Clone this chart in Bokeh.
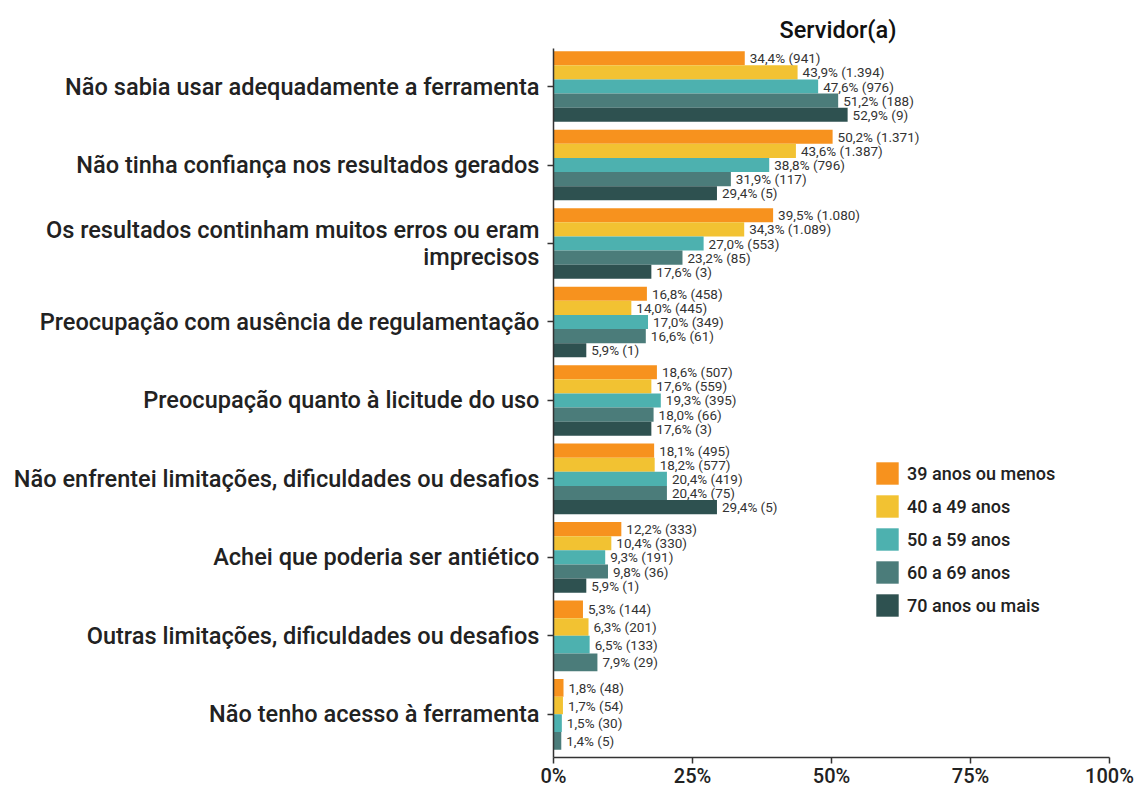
from bokeh.plotting import figure
from bokeh.models import Range1d, FixedTicker, ColumnDataSource
from bokeh.embed import file_html
from bokeh.resources import INLINE
from bokeh.core.properties import value

categories = [
    "Não sabia usar adequadamente a ferramenta",
    "Não tinha confiança nos resultados gerados",
    "Os resultados continham muitos erros ou eram\nimprecisos",
    "Preocupação com ausência de regulamentação",
    "Preocupação quanto à licitude do uso",
    "Não enfrentei limitações, dificuldades ou desafios",
    "Achei que poderia ser antiético",
    "Outras limitações, dificuldades ou desafios",
    "Não tenho acesso à ferramenta",
]
groups = ["39 anos ou menos", "40 a 49 anos", "50 a 59 anos", "60 a 69 anos", "70 anos ou mais"]
colors = ["#F7921E", "#F2C232", "#4DB1AF", "#4B7C7A", "#2E5150"]

pct_39 = [34.4, 50.2, 39.5, 16.8, 18.6, 18.1, 12.2, 5.3, 1.8]
n_39 = ["941", "1.371", "1.080", "458", "507", "495", "333", "144", "48"]
pct_40 = [43.9, 43.6, 34.3, 14.0, 17.6, 18.2, 10.4, 6.3, 1.7]
n_40 = ["1.394", "1.387", "1.089", "445", "559", "577", "330", "201", "54"]
pct_50 = [47.6, 38.8, 27.0, 17.0, 19.3, 20.4, 9.3, 6.5, 1.5]
n_50 = ["976", "796", "553", "349", "395", "419", "191", "133", "30"]
pct_60 = [51.2, 31.9, 23.2, 16.6, 18.0, 20.4, 9.8, 7.9, 1.4]
n_60 = ["188", "117", "85", "61", "66", "75", "36", "29", "5"]
pct_70 = [52.9, 29.4, 17.6, 5.9, 17.6, 29.4, 5.9, None, None]
n_70 = ["9", "5", "3", "1", "3", "5", "1", None, None]

x_ticks = [0, 25, 50, 75, 100]
x_tick_labels = ["0%", "25%", "50%", "75%", "100%"]

series_pct = [pct_39, pct_40, pct_50, pct_60, pct_70]
series_n = [n_39, n_40, n_50, n_60, n_70]

FONT = "Roboto"
FONT_M = "Roboto Medium"
TXT = "#222222"

p = figure(width=1135, height=790, output_backend="svg", toolbar_location=None,
           x_range=Range1d(0, 100), y_range=Range1d(8.55, -0.485),
           min_border_left=553, min_border_right=26, min_border_top=48, min_border_bottom=28,
           title="Servidor(a)")
p.outline_line_color = None
p.background_fill_color = "white"
p.border_fill_color = "white"
p.xgrid.visible = False
p.ygrid.visible = False

p.title.align = "left"
p.title.offset = 226
p.title.text_font = FONT_M
p.title.text_font_size = "23.5px"
p.title.text_font_style = "normal"
p.title.text_color = "#111111"

# dodge width 0.9 split among present series in each category
dodge = 0.9
for s, (pcts, ns, name, col) in enumerate(zip(series_pct, series_n, groups, colors)):
    ys, hs, xs, labs = [], [], [], []
    for i in range(len(categories)):
        present = [k for k in range(len(series_pct)) if series_pct[k][i] is not None]
        if pcts[i] is None:
            continue
        n = len(present)
        k = present.index(s)
        h = dodge / n
        ys.append(i - dodge / 2 + (k + 0.5) * h)
        hs.append(h)
        xs.append(pcts[i])
        labs.append(f"{pcts[i]:.1f}".replace(".", ",") + "% (" + ns[i] + ")")
    src = ColumnDataSource(dict(y=ys, h=hs, x=xs, label=labs))
    p.hbar(y="y", height="h", left=0, right="x", source=src, fill_color=col,
           line_color=None, legend_label=name)
    p.text(x="x", y="y", text="label", source=src, x_offset=5, text_baseline="middle",
           text_align="left", text_font=value(FONT), text_font_size="13.5px", text_color="#333333")

# axes
p.xaxis.ticker = FixedTicker(ticks=x_ticks)
p.xaxis.major_label_overrides = {t: l for t, l in zip(x_ticks, x_tick_labels)}
p.yaxis.ticker = FixedTicker(ticks=list(range(len(categories))))
p.yaxis.major_label_overrides = {i: c for i, c in enumerate(categories)}
for ax in (p.xaxis[0], p.yaxis[0]):
    ax.axis_line_color = "#333333"
    ax.axis_line_width = 1.5
    ax.major_tick_line_color = "#333333"
    ax.major_tick_line_width = 1.5
    ax.major_tick_out = 6
    ax.major_tick_in = 0
    ax.minor_tick_line_color = None
    ax.major_label_text_font = FONT_M
    ax.major_label_text_color = TXT
p.xaxis.major_label_text_font_size = "20px"
p.xaxis.major_label_standoff = 0
p.yaxis.major_label_text_font_size = "23.5px"
p.yaxis.major_label_standoff = 8
p.yaxis.major_label_text_line_height = 0.95

lg = p.legend[0]
lg.location = (320, 138)
lg.glyph_width = 28
lg.glyph_height = 28
lg.spacing = 5
lg.padding = 0
lg.margin = 0
lg.label_standoff = 6
lg.label_text_font = FONT_M
lg.label_text_font_size = "18px"
lg.label_text_color = TXT
lg.border_line_color = None
lg.background_fill_alpha = 0

open("out.html", "w").write(file_html(p, INLINE))
